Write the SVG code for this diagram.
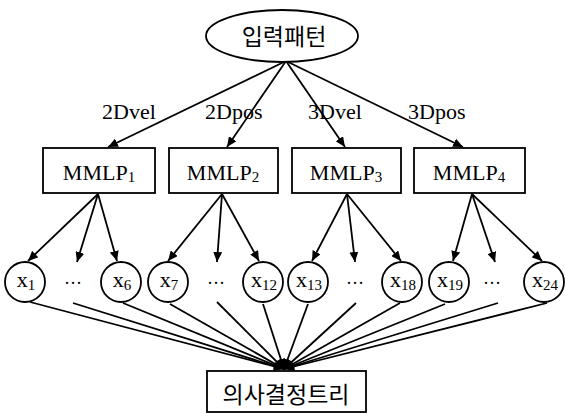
<svg xmlns="http://www.w3.org/2000/svg" width="565" height="413" viewBox="0 0 565 413">
<style>
.shape{fill:#fff;stroke:#000;stroke-width:1.8}
.t{font-family:"Liberation Serif","Times New Roman",serif;fill:#000}
.k{font-family:"Noto Sans CJK KR",sans-serif;fill:#000;font-size:23px}
.lbl{font-size:22px}
.box{font-size:22px}
.node{font-size:22px}
.sub{font-size:15px}
.conn line{stroke:#000;stroke-width:1.8}
.arr{marker-end:url(#ah)}
.dots{font-size:18px}
</style>
<defs>
<marker id="ah" markerUnits="userSpaceOnUse" markerWidth="11" markerHeight="9" refX="10" refY="4.5" orient="auto">
<path d="M0,0 L10,4.5 L0,9 z" fill="#000"/>
</marker>
</defs>
<rect width="565" height="413" fill="#fff"/>
<g id="conn" class="conn">
<line class="arr" x1="286" y1="61" x2="108" y2="147"/>
<line class="arr" x1="286" y1="61" x2="227" y2="147"/>
<line class="arr" x1="286" y1="61" x2="345" y2="147"/>
<line class="arr" x1="286" y1="61" x2="463" y2="147"/>
<line class="arr" x1="98" y1="194" x2="28" y2="261"/>
<line class="arr" x1="98" y1="194" x2="77" y2="262"/>
<line class="arr" x1="98" y1="194" x2="117" y2="261"/>
<line class="arr" x1="222" y1="194" x2="168" y2="261"/>
<line class="arr" x1="222" y1="194" x2="217" y2="262"/>
<line class="arr" x1="222" y1="194" x2="259" y2="261"/>
<line class="arr" x1="347" y1="194" x2="312" y2="261"/>
<line class="arr" x1="347" y1="194" x2="355" y2="262"/>
<line class="arr" x1="347" y1="194" x2="401" y2="261"/>
<line class="arr" x1="472" y1="194" x2="453" y2="261"/>
<line class="arr" x1="472" y1="194" x2="495" y2="262"/>
<line class="arr" x1="472" y1="194" x2="542" y2="261"/>
<line class="arr" x1="30" y1="302" x2="284" y2="369"/>
<line class="arr" x1="73" y1="303" x2="284" y2="369"/>
<line class="arr" x1="123" y1="303" x2="284" y2="369"/>
<line class="arr" x1="170" y1="304" x2="284" y2="369"/>
<line class="arr" x1="217" y1="302" x2="284" y2="369"/>
<line class="arr" x1="263" y1="304" x2="284" y2="369"/>
<line class="arr" x1="308" y1="304" x2="284" y2="369"/>
<line class="arr" x1="356" y1="303" x2="284" y2="369"/>
<line class="arr" x1="400" y1="303" x2="284" y2="369"/>
<line class="arr" x1="445" y1="304" x2="284" y2="369"/>
<line class="arr" x1="498" y1="303" x2="284" y2="369"/>
<line class="arr" x1="547" y1="303" x2="284" y2="369"/>
<text class="t lbl" x="102" y="119">2Dvel</text>
<text class="t lbl" x="205" y="119">2Dpos</text>
<text class="t lbl" x="308" y="119">3Dvel</text>
<text class="t lbl" x="408" y="119">3Dpos</text>
</g>
<g id="input">
<ellipse class="shape" cx="282" cy="36" rx="76" ry="26"/>
<text class="k" x="284" y="45" text-anchor="middle">입력패턴</text>
</g>
<g id="mmlp1"><rect class="shape" x="43" y="148" width="112" height="45"/><text class="t box" x="99" y="180" text-anchor="middle">MMLP<tspan class="sub" dy="2">1</tspan></text></g>
<g id="mmlp2"><rect class="shape" x="169" y="148" width="109" height="45"/><text class="t box" x="223" y="180" text-anchor="middle">MMLP<tspan class="sub" dy="2">2</tspan></text></g>
<g id="mmlp3"><rect class="shape" x="292" y="148" width="109" height="45"/><text class="t box" x="346" y="180" text-anchor="middle">MMLP<tspan class="sub" dy="2">3</tspan></text></g>
<g id="mmlp4"><rect class="shape" x="414" y="148" width="111" height="45"/><text class="t box" x="469" y="180" text-anchor="middle">MMLP<tspan class="sub" dy="2">4</tspan></text></g>
<g id="x1"><circle class="shape" cx="25" cy="282" r="20"/><text class="t node" x="26" y="287" text-anchor="middle">x<tspan class="sub" dy="3">1</tspan></text></g>
<g id="d1"><text class="t dots" x="73" y="289" text-anchor="middle">···</text></g>
<g id="x6"><circle class="shape" cx="121" cy="282" r="20"/><text class="t node" x="122" y="287" text-anchor="middle">x<tspan class="sub" dy="3">6</tspan></text></g>
<g id="x7"><circle class="shape" cx="168" cy="282" r="20"/><text class="t node" x="169" y="287" text-anchor="middle">x<tspan class="sub" dy="3">7</tspan></text></g>
<g id="d2"><text class="t dots" x="216" y="289" text-anchor="middle">···</text></g>
<g id="x12"><circle class="shape" cx="263" cy="282" r="20"/><text class="t node" x="264" y="287" text-anchor="middle">x<tspan class="sub" dy="3">12</tspan></text></g>
<g id="x13"><circle class="shape" cx="308" cy="282" r="20"/><text class="t node" x="309" y="287" text-anchor="middle">x<tspan class="sub" dy="3">13</tspan></text></g>
<g id="d3"><text class="t dots" x="355" y="289" text-anchor="middle">···</text></g>
<g id="x18"><circle class="shape" cx="402" cy="282" r="20"/><text class="t node" x="403" y="287" text-anchor="middle">x<tspan class="sub" dy="3">18</tspan></text></g>
<g id="x19"><circle class="shape" cx="449" cy="282" r="20"/><text class="t node" x="450" y="287" text-anchor="middle">x<tspan class="sub" dy="3">19</tspan></text></g>
<g id="d4"><text class="t dots" x="492" y="289" text-anchor="middle">···</text></g>
<g id="x24"><circle class="shape" cx="544" cy="282" r="20"/><text class="t node" x="545" y="287" text-anchor="middle">x<tspan class="sub" dy="3">24</tspan></text></g>
<g id="tree"><rect class="shape" x="207" y="371" width="159" height="41"/><text class="k" x="286" y="403" text-anchor="middle">의사결정트리</text></g>
</svg>
